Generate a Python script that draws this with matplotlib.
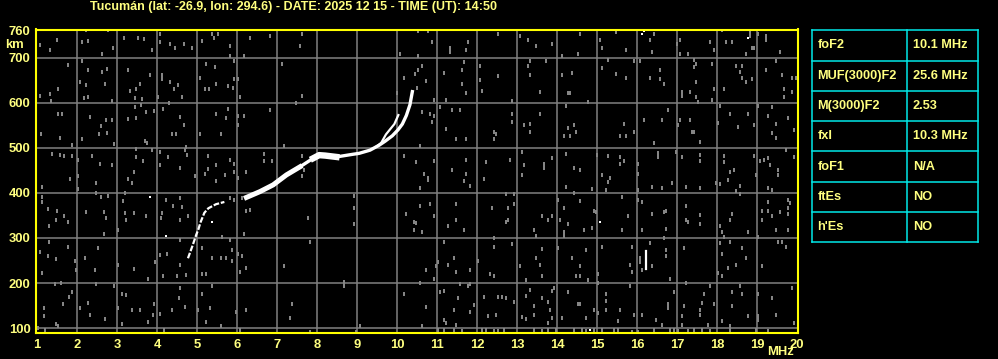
import matplotlib
matplotlib.use('Agg')
import matplotlib.pyplot as plt
import numpy as np

plt.rcParams.update({
    "font.family": ["Liberation Sans", "DejaVu Sans"],
    "font.weight": "bold",
    "font.size": 9.4,
})

YEL = '#ffff80'
BORDER = '#ffff00'
CYAN = '#00e8e8'
GRID = '#808080'

title = "Tucumán (lat: -26.9, lon: 294.6) - DATE: 2025 12 15 - TIME (UT): 14:50"

x_ticks = list(range(1, 21))
y_ticks = [100, 200, 300, 400, 500, 600, 700, 760]

# F1 / lower part of the trace (MHz, km)
low_f = [4.77, 4.88, 4.98, 5.03, 5.08, 5.18, 5.28, 5.47, 5.68]
low_h = [255, 282, 308, 319, 334, 356, 366, 375, 380]

# main F2 trace
f2_f = [6.23, 6.57, 6.9, 7.23, 7.57, 7.9, 8.05, 8.2, 8.48, 8.9, 9.05, 9.32, 9.55, 9.7, 9.88, 10.02, 10.13, 10.23, 10.32, 10.38]
f2_h = [390, 403, 418, 440, 458, 477, 484, 483, 480, 486, 488, 495, 506, 515, 527, 540, 553, 572, 596, 625]

# inner split of the trace
f2b_f = [9.45, 9.6, 9.72, 9.82, 9.93, 10.03]
f2b_h = [501, 511, 530, 541, 553, 573]

# isolated echo near 16.2 MHz
spike_f = [16.23, 16.23]
spike_h = [231, 270]

# scattered noise (MHz, km)
noise = [
    (1.08, 729), (1.33, 717), (1.5, 739), (2.23, 761), (2.13, 735), (2.28, 738), (2.63, 708), (2.78, 761),
    (2.9, 723), (3.18, 744), (3.53, 744), (3.68, 741), (3.88, 717), (4.08, 753), (4.08, 735), (4.33, 730),
    (4.45, 723), (4.68, 730), (4.88, 721), (5.13, 738), (5.38, 753), (5.53, 753), (5.43, 744),
    (1.78, 684), (2.13, 693), (2.28, 673), (2.08, 647), (2.23, 640), (2.63, 668), (2.75, 676), (2.7, 643),
    (3.28, 674), (3.33, 627), (3.48, 630), (3.58, 643), (3.83, 661), (4.12, 662), (4.12, 652), (4.33, 647),
    (4.43, 630), (4.53, 640), (4.63, 612), (5.08, 656), (5.23, 687), (5.45, 679), (5.2, 630), (5.3, 631),
    (5.48, 641), (1.33, 619), (1.53, 630), (1.35, 604), (2.18, 610), (2.28, 612), (1.07, 615), (2.88, 604),
    (3.45, 610), (3.63, 609), (4.03, 612),
    (1.53, 576), (1.63, 576), (2.33, 569), (2.6, 548), (2.73, 561), (2.87, 563), (2.75, 533), (1.1, 532),
    (1.58, 523), (1.88, 507), (2.13, 519), (3.28, 564), (3.47, 567), (3.73, 579), (3.93, 582), (3.45, 590),
    (3.6, 596), (3.7, 516), (3.75, 510), (4.15, 587), (4.3, 599), (4.58, 569), (4.68, 550), (4.38, 532),
    (4.48, 532), (5.08, 530), (5.48, 576), (5.6, 532), (2.93, 508), (2.55, 532),
    (1.38, 487), (1.58, 484), (1.68, 483), (1.87, 483), (2.03, 473), (2.38, 483), (2.58, 465), (2.88, 462),
    (1.83, 430), (2.02, 437), (2.48, 422), (2.03, 409), (1.13, 413), (3.48, 498), (3.48, 479), (3.65, 471),
    (3.88, 496), (3.43, 446), (3.28, 430), (3.38, 422), (4.08, 492), (4.28, 479), (4.08, 462), (4.58, 456),
    (4.7, 496), (4.75, 484), (4.95, 437), (5.2, 443), (5.27, 453), (5.48, 427), (5.28, 483), (5.47, 461),
    (5.7, 439), (4.72, 502),
    (1.12, 391), (1.13, 381), (1.27, 364), (1.5, 361), (1.3, 327), (1.48, 339), (1.68, 348), (1.78, 335),
    (2.23, 357), (2.68, 357), (2.73, 344), (2.48, 399), (2.6, 391), (2.78, 393), (3.15, 382), (3.2, 356),
    (3.43, 356), (3.23, 339), (3.03, 317), (3.73, 348), (4.13, 356), (4.1, 344), (4.23, 384),
    (4.4, 372), (4.57, 388), (4.58, 339), (4.63, 369), (4.78, 348), (2.68, 308), (3.2, 400),
    (1.3, 290), (1.78, 281), (1.08, 268), (1.28, 261), (1.48, 253), (1.13, 222), (1.95, 249), (1.97, 230),
    (2.2, 255), (2.45, 228), (2.53, 277), (3.03, 240), (3.42, 231), (3.78, 210), (3.95, 247), (4.08, 262),
    (4.25, 265), (4.15, 215), (4.58, 240), (4.5, 215), (4.73, 218), (5.13, 277), (5.12, 219), (5.38, 255),
    (5.6, 255), (5.23, 219), (4.58, 296), (5.63, 302),
    (1.45, 197), (1.6, 199), (1.88, 181), (1.8, 170), (1.65, 153), (1.18, 145), (1.18, 126), (1.47, 110),
    (1.53, 104), (2.47, 197), (2.27, 156), (2.33, 130), (2.93, 193), (3.13, 175), (3.23, 174), (3.03, 145),
    (3.37, 139), (3.58, 139), (3.92, 154), (3.9, 130), (3.13, 110), (3.78, 114), (4.17, 95), (4.08, 132),
    (4.38, 141), (4.58, 188), (4.55, 167), (4.7, 147), (5.03, 141), (5.12, 176), (5.33, 145), (5.38, 193),
    (5.23, 114), (5.6, 104), (2.7, 119), (2.07, 145), (1.03, 101), (1.2, 96),
    (5.83, 726), (6.33, 744), (6.83, 748), (7.63, 753), (7.58, 726), (5.93, 693), (5.83, 704), (6.18, 704),
    (7.13, 687), (5.78, 637), (5.9, 634), (5.93, 652), (6.03, 652), (6.08, 612), (7.63, 616), (7.48, 599),
    (6.83, 585), (10.08, 708), (10.18, 656), (10.45, 665), (10.0, 622), (5.78, 587), (6.03, 572), (6.18, 571),
    (6.03, 550), (5.73, 567), (7.18, 504), (6.68, 487), (6.68, 470), (6.88, 470), (6.23, 447), (6.03, 434),
    (5.83, 474), (5.93, 465), (5.93, 447), (7.63, 483), (7.68, 452), (7.63, 437), (10.18, 481), (5.83, 388),
    (5.93, 384), (6.13, 388), (6.23, 361), (6.33, 363), (6.18, 308), (8.93, 393), (8.93, 366), (8.93, 330),
    (7.78, 344), (10.23, 353), (10.43, 335), (10.43, 317), (5.83, 296), (5.88, 273), (6.03, 264), (6.13, 259),
    (5.73, 255), (5.88, 250), (6.23, 233), (6.08, 225), (7.18, 237), (7.83, 290), (8.68, 203), (8.68, 193),
    (10.18, 175), (7.38, 154), (7.33, 123), (6.23, 141), (5.98, 136), (6.08, 95), (9.08, 105), (8.98, 92),
    (7.83, 92),
    (10.53, 759), (10.78, 759), (10.88, 735), (11.33, 721), (11.33, 713), (11.78, 735), (11.73, 717),
    (12.53, 754), (13.08, 748), (13.28, 739), (13.48, 726), (13.88, 730), (14.58, 753), (14.53, 708),
    (15.08, 739), (15.13, 721), (14.13, 704), (10.53, 704),
    (10.63, 683), (10.53, 673), (10.73, 649), (11.18, 667), (11.63, 673), (11.68, 690), (11.63, 643),
    (11.73, 622), (11.23, 606), (10.93, 607), (12.08, 650), (12.08, 683), (12.13, 627), (12.53, 659),
    (12.88, 604), (13.33, 693), (13.28, 683), (13.33, 661), (13.73, 693), (13.58, 625), (14.13, 661),
    (14.38, 667), (14.28, 621), (14.33, 621), (14.78, 601), (15.13, 677), (10.5, 634),
    (10.63, 579), (10.83, 576), (10.93, 572), (11.08, 590), (11.38, 585), (11.58, 584), (10.88, 557),
    (11.23, 541), (11.48, 519), (11.73, 519), (12.43, 536), (12.48, 532), (12.43, 519), (12.88, 576),
    (12.88, 557), (13.18, 550), (13.33, 554), (13.33, 536), (13.58, 576), (14.23, 594), (14.28, 545),
    (14.43, 550), (14.33, 527), (14.18, 527), (14.48, 536), (10.58, 505),
    (10.48, 468), (10.68, 443), (10.78, 434), (10.78, 428), (10.58, 410), (10.92, 470), (11.38, 450),
    (11.73, 474), (11.73, 441), (11.68, 427), (11.83, 415), (12.23, 468), (12.18, 430), (12.83, 474),
    (13.13, 492), (13.18, 461), (13.13, 439), (13.68, 465), (13.68, 455), (13.88, 477), (14.23, 487),
    (14.43, 456), (14.58, 452), (14.23, 413), (15.0, 484), (15.13, 439), (14.88, 409),
    (10.58, 370), (10.83, 375), (10.93, 348), (10.48, 333), (10.63, 313), (11.28, 326), (11.48, 375),
    (11.48, 339), (11.68, 317), (12.73, 397), (12.93, 397), (12.93, 375), (12.38, 366), (12.78, 366),
    (12.78, 339), (12.73, 335), (13.63, 348), (13.78, 339), (13.88, 348), (13.43, 317), (13.48, 304),
    (14.03, 384), (14.18, 366), (14.28, 331), (14.08, 339), (14.18, 313), (14.18, 304), (14.58, 382),
    (14.43, 399), (14.68, 318), (14.88, 323), (14.93, 361), (14.98, 357),
    (11.18, 290), (11.43, 255), (11.28, 241), (11.03, 246), (10.98, 237), (10.73, 228), (10.93, 210),
    (11.48, 224), (11.83, 228), (12.03, 250), (12.43, 281), (12.43, 299), (12.88, 287), (12.33, 219),
    (12.43, 215), (13.08, 237), (13.48, 255), (13.63, 276), (13.58, 241), (13.63, 215), (14.03, 277),
    (14.38, 255), (14.73, 273), (14.58, 237), (14.48, 215), (14.58, 215), (14.78, 206), (15.03, 221),
    (15.13, 281),
    (10.58, 200), (11.08, 179), (11.18, 182), (11.58, 197), (11.78, 193), (11.83, 197), (11.53, 166),
    (11.43, 139), (11.93, 151), (11.83, 136), (10.73, 147), (11.18, 117), (11.23, 111), (11.48, 107),
    (12.18, 170), (12.53, 170), (12.63, 170), (12.73, 166), (12.93, 158), (12.48, 129), (12.28, 126),
    (13.23, 206), (13.33, 184), (13.23, 172), (13.43, 148), (13.63, 166), (13.78, 157), (13.88, 182),
    (13.93, 189), (13.83, 141), (13.88, 123), (13.78, 111), (13.23, 119), (13.13, 124), (13.43, 129),
    (14.13, 122), (14.28, 179), (14.53, 153), (14.58, 153), (14.93, 141), (14.73, 122), (15.03, 134),
    (15.03, 200), (10.63, 105),
    (11.03, 95), (11.18, 96), (11.43, 95), (11.63, 94), (12.13, 96), (12.23, 96), (12.43, 94), (12.53, 94),
    (12.68, 96), (13.43, 96), (13.63, 94), (13.78, 95), (13.98, 96), (14.43, 96), (14.63, 95), (14.73, 94),
    (14.93, 96), (15.13, 95),
    (15.48, 757), (16.43, 753), (16.33, 739), (16.38, 713), (17.0, 730), (17.08, 739), (17.28, 708),
    (17.08, 708), (17.83, 735), (17.93, 717), (18.13, 761), (18.23, 735), (18.38, 735), (18.83, 757),
    (18.83, 748), (18.88, 723), (18.93, 723), (18.73, 708), (19.03, 753), (19.23, 748), (19.23, 739),
    (19.58, 713), (15.73, 717),
    (15.28, 696), (15.48, 665), (15.73, 656), (15.93, 692), (16.08, 692), (16.33, 656), (16.58, 652),
    (16.58, 673), (16.68, 643), (17.43, 696), (17.48, 687), (17.43, 679), (17.48, 647), (17.13, 625),
    (17.13, 616), (17.33, 624), (17.48, 612), (17.53, 603), (17.93, 630), (17.88, 687), (17.88, 607),
    (18.18, 630), (18.48, 683), (18.58, 668), (18.63, 683), (18.63, 656), (18.73, 647), (18.88, 652),
    (19.23, 673), (19.48, 692), (19.63, 661), (19.68, 630), (19.68, 612), (19.88, 656), (19.98, 656),
    (19.88, 625),
    (15.68, 554), (15.58, 527), (15.73, 526), (15.93, 536), (16.18, 563), (16.43, 510), (16.63, 561),
    (16.78, 585), (17.08, 563), (17.33, 561), (17.38, 536), (17.43, 536), (17.58, 514), (17.03, 550),
    (18.08, 594), (18.03, 555), (18.33, 576), (18.53, 547), (18.78, 576), (18.93, 550), (19.03, 594),
    (19.38, 590), (19.28, 572), (19.48, 553), (19.38, 533), (19.48, 521), (19.78, 567), (19.93, 539),
    (15.28, 483), (15.58, 479), (15.58, 464), (15.68, 470), (15.33, 434), (15.28, 424), (15.23, 406),
    (16.03, 465), (16.03, 443), (16.03, 406), (16.38, 413), (16.53, 489), (16.53, 479), (16.63, 412),
    (16.88, 422), (16.98, 492), (17.13, 479), (17.23, 413), (17.58, 484), (17.58, 471), (17.58, 412),
    (17.98, 422), (18.08, 419), (18.18, 483), (18.18, 468), (18.33, 447), (18.43, 452), (18.28, 428),
    (18.58, 416), (18.48, 404), (18.58, 397), (18.93, 483), (18.98, 439), (19.08, 470), (19.18, 473),
    (19.28, 477), (19.33, 462), (19.53, 439), (19.53, 452), (19.73, 495), (19.93, 479), (19.28, 412),
    (19.38, 407),
    (15.63, 390), (15.78, 348), (15.63, 317), (16.03, 384), (16.13, 379), (16.13, 318), (16.38, 353),
    (16.68, 357), (16.73, 361), (16.73, 321), (17.23, 370), (17.23, 339), (17.28, 335), (17.58, 350),
    (17.58, 332), (18.08, 326), (18.13, 314), (18.18, 302), (18.38, 353), (18.33, 339), (18.78, 313),
    (19.13, 361), (19.28, 361), (19.13, 339), (19.28, 379), (19.38, 348), (19.48, 317), (19.58, 357),
    (19.78, 353), (19.78, 384), (19.83, 378), (19.78, 366), (19.78, 317),
    (15.88, 281), (15.83, 241), (15.88, 224), (16.08, 256), (16.08, 246), (16.13, 228), (16.38, 237),
    (16.33, 289), (16.68, 299), (16.73, 273), (16.73, 260), (16.83, 210), (17.18, 277), (17.23, 200),
    (18.08, 289), (18.13, 264), (18.13, 215), (18.33, 290), (18.63, 277), (18.73, 255), (18.48, 241),
    (18.28, 233), (18.03, 222), (19.13, 237), (19.53, 290), (19.73, 281), (19.63, 290), (19.03, 303),
    (15.23, 175), (15.23, 160), (15.23, 141), (15.83, 193), (15.58, 141), (15.93, 129), (16.13, 129),
    (15.53, 116), (16.93, 179), (16.78, 154), (16.78, 144), (17.18, 148), (17.13, 126), (16.48, 117),
    (17.58, 141), (17.58, 129), (17.63, 156), (17.68, 175), (17.83, 193), (17.93, 154), (18.38, 148),
    (18.38, 179), (18.58, 193), (18.63, 175), (18.78, 126), (19.03, 175), (19.03, 126), (19.03, 117),
    (19.38, 166), (19.48, 129), (19.88, 188), (19.93, 112), (18.13, 116), (18.33, 105),
    (15.43, 96), (15.53, 96), (15.88, 92), (16.03, 92), (16.43, 96), (16.63, 107), (16.83, 96), (16.93, 96),
    (17.03, 94), (17.13, 107), (17.28, 94), (17.43, 96), (17.63, 95), (17.78, 107), (17.83, 94), (18.33, 96),
    (18.98, 96), (19.28, 94),
]

# bright isolated dots
bright = [(4.23, 304), (3.83, 390), (5.38, 335), (15.08, 336), (14.83, 96),
          (16.18, 760), (16.13, 753), (18.78, 744), (19.53, 761)]

# parameter table
param_names = ["foF2", "MUF(3000)F2", "M(3000)F2", "fxI", "foF1", "ftEs", "h'Es"]
param_values = ["10.1 MHz", "25.6 MHz", "2.53", "10.3 MHz", "N/A", "NO", "NO"]

W, H = 998, 359
fig = plt.figure(figsize=(W / 100, H / 100), dpi=100, facecolor='black')

ax = fig.add_axes([36 / W, 1 - 333 / H, 761.5 / W, 303.5 / H])
ax.set_facecolor('black')
ax.set_xlim(0.97, 20.01)
ax.set_ylim(89, 763)

for xv in range(2, 20):
    ax.axvline(xv, color=GRID, lw=1.1, zorder=1)
for yv in range(100, 800, 100):
    ax.axhline(yv, color=GRID, lw=1.1, zorder=1)

# noise speckles as small 2x3 px rectangles
rect = [(-1, -1.5), (1, -1.5), (1, 1.5), (-1, 1.5), (-1, -1.5)]
nf = [p[0] for p in noise]
nh = [p[1] for p in noise]
ax.plot(nf, nh, ls='none', marker=rect, ms=2.2, mew=0, color='#858585', zorder=2)
ax.plot([p[0] for p in bright], [p[1] for p in bright], ls='none', marker='s',
        ms=1.6, mew=0, color='white', zorder=3)

# traces
ax.plot(low_f, low_h, color='white', lw=1.6, ls=(0, (2.6, 0.8)), solid_capstyle='butt', zorder=4)
f2_f = np.array(f2_f)
f2_h = np.array(f2_h)
ax.plot(f2_f, f2_h, color='white', lw=2.4, zorder=4)
thick = f2_f <= 7.6
ax.plot(f2_f[thick], f2_h[thick], color='white', lw=3.6, zorder=4)
blob = (f2_f >= 7.9) & (f2_f <= 8.5)
ax.plot(f2_f[blob], f2_h[blob], color='white', lw=4.6, zorder=4)
ax.plot(f2b_f, f2b_h, color='white', lw=1.6, zorder=4)
ax.plot(spike_f, spike_h, color='white', lw=1.6, zorder=4)

for s in ax.spines.values():
    s.set_color(BORDER)
    s.set_linewidth(1.5)
    s.set_zorder(6)

ax.set_xticks(x_ticks)
ax.set_xticklabels([str(v) for v in x_ticks])
ax.set_yticks(y_ticks)
ax.set_yticklabels([str(v) for v in y_ticks])
ax.tick_params(length=0, colors=YEL, labelsize=9.4)
ax.tick_params(axis='x', pad=4)
ax.tick_params(axis='y', pad=4)

fig.text(14 / W, 1 - 45 / H, "km", color=YEL, ha='center', va='center', fontsize=9.4, fontweight='bold')
fig.text(780 / W, 1 - 352 / H, "MHz", color=YEL, ha='center', va='center', fontsize=9.4, fontweight='bold')
fig.text(294 / W, 1 - 7 / H, title, color=YEL, ha='center', va='center', fontsize=9.0, fontweight='bold')

# table
tax = fig.add_axes([812 / W, 1 - 242.3 / H, 165.7 / W, 212 / H])
tax.set_xlim(0, 1)
tax.set_ylim(len(param_names), 0)
tax.axis('off')
split = (907.3 - 812) / 165.7
for i in range(len(param_names) + 1):
    tax.plot([0, 1], [i, i], color=CYAN, lw=1.1, clip_on=False)
tax.plot([0, 0], [0, len(param_names)], color=CYAN, lw=1.1, clip_on=False)
tax.plot([1, 1], [0, len(param_names)], color=CYAN, lw=1.1, clip_on=False)
tax.plot([split, split], [0, len(param_names)], color=CYAN, lw=1.1, clip_on=False)
for i, (n, v) in enumerate(zip(param_names, param_values)):
    tax.text(5.5 / 165.7, i + 0.5, n, color=YEL, va='center', ha='left', fontsize=9.2, fontweight='bold')
    tax.text(split + 5.5 / 165.7, i + 0.5, v, color=YEL, va='center', ha='left', fontsize=9.2, fontweight='bold')

fig.savefig('out.png', dpi=100, facecolor='black')
